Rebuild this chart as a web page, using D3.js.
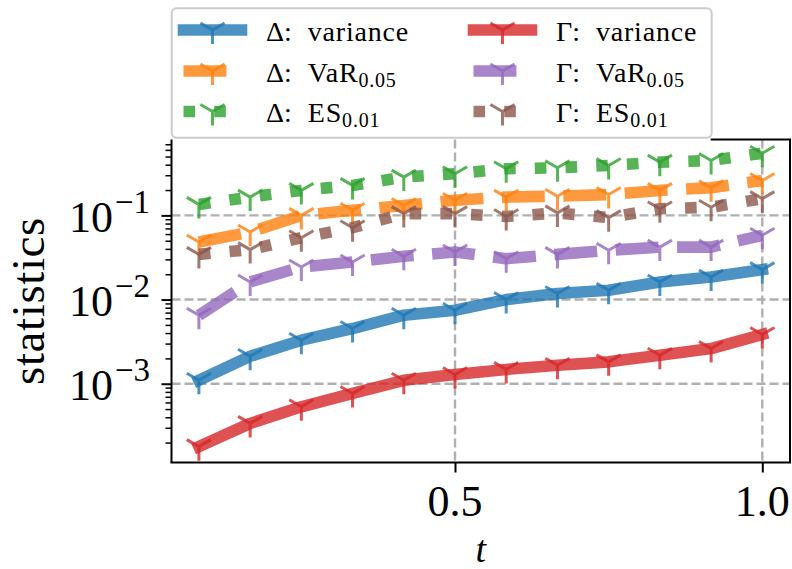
<!DOCTYPE html>
<html><head><meta charset="utf-8">
<script src="https://cdn.jsdelivr.net/npm/d3@7"></script>
<style>
html,body{margin:0;padding:0;background:#fff;}
svg{display:block;}
</style></head>
<body>
<svg id="chart" width="792" height="569"></svg>
<script>
// ---- data ----
const tValues = [0.0833, 0.1667, 0.25, 0.3333, 0.4167, 0.5, 0.5833, 0.6667, 0.75, 0.8333, 0.9167, 1.0];
const deltaVariance = [0.00110, 0.00212, 0.00329, 0.00453, 0.00652, 0.00747, 0.0100, 0.0118, 0.0129, 0.0162, 0.0185, 0.0227];
const deltaVaR = [0.0482, 0.0634, 0.100, 0.115, 0.131, 0.151, 0.165, 0.169, 0.177, 0.198, 0.213, 0.260];
const deltaES = [0.135, 0.165, 0.198, 0.227, 0.285, 0.312, 0.358, 0.368, 0.392, 0.429, 0.449, 0.548];
const gammaVariance = [0.000179, 0.000338, 0.000532, 0.000767, 0.00110, 0.00129, 0.00148, 0.00166, 0.00182, 0.00218, 0.00262, 0.00385];
const gammaVaR = [0.0065, 0.0162, 0.0244, 0.0279, 0.0327, 0.0367, 0.0306, 0.0344, 0.0385, 0.042, 0.042, 0.058];
const gammaES = [0.0344, 0.0392, 0.0543, 0.0714, 0.105, 0.105, 0.097, 0.107, 0.094, 0.120, 0.125, 0.158];

const seriesPrefix = ["Δ", "Δ", "Δ", "Γ", "Γ", "Γ"];
const seriesName = ["variance", "VaR", "ES", "variance", "VaR", "ES"];
const seriesSub = ["", "0.05", "0.01", "", "0.05", "0.01"];
const seriesValues = [deltaVariance, deltaVaR, deltaES, gammaVariance, gammaVaR, gammaES];
const seriesStyle = ["solid", "dashed", "dotted", "solid", "dashed", "dotted"];
const seriesColor = ["#1f77b4", "#ff7f0e", "#2ca02c", "#d62728", "#9467bd", "#8c564b"];

const xTickValues = [0.5, 1.0];
const xTickLabels = ["0.5", "1.0"];
const yTickValues = [1e-3, 1e-2, 1e-1];
const yTickExponents = ["−3", "−2", "−1"];
const xLabel = "t";
const yLabel = "statistics";

// ---- layout ----
const FONT = "'Liberation Serif', 'DejaVu Serif', 'Noto Serif', 'Times New Roman', serif";
const L = 171.5, R = 790, T = 139.5, B = 462.5;
const LW = 11.6;
const MR = 14; // marker radius
const svg = d3.select("#chart");

const x = d3.scaleLinear().domain([0.03872, 1.04507]).range([L, R]);
const y = d3.scaleLog().domain([1.16e-4, 0.797]).range([B, T]);

function dashFor(style){
  if (style === "dashed") return `${3.7*LW} ${1.6*LW}`;
  if (style === "dotted") return `${1*LW} ${1.65*LW}`;
  return null;
}
function txt(g){ return g.append("text").attr("font-family", FONT).attr("fill", "#000"); }

// grid
const gridG = svg.append("g");
yTickValues.forEach(v => {
  gridG.append("line").attr("x1", L).attr("x2", R).attr("y1", y(v)).attr("y2", y(v))
    .attr("stroke", "#b0b0b0").attr("stroke-width", 2.4).attr("stroke-dasharray", "9 4");
});
xTickValues.forEach(v => {
  gridG.append("line").attr("y1", T).attr("y2", B).attr("x1", x(v)).attr("x2", x(v))
    .attr("stroke", "#b0b0b0").attr("stroke-width", 2.4).attr("stroke-dasharray", "9 4");
});

// markers (tri_down)
function triDown(g, cx, cy, color){
  const p = `M${cx},${cy}L${cx},${cy+MR}M${cx},${cy}L${cx+0.866*MR},${cy-0.5*MR}M${cx},${cy}L${cx-0.866*MR},${cy-0.5*MR}`;
  g.append("path").attr("d", p).attr("fill", "none").attr("stroke", color)
    .attr("stroke-width", 3).attr("stroke-opacity", 0.8).attr("stroke-linecap", "butt");
}

const line = d3.line().x((d, i) => x(tValues[i])).y(d => y(d));
const plotG = svg.append("g");
seriesValues.forEach((vals, si) => {
  const g = plotG.append("g");
  const p = g.append("path").attr("d", line(vals)).attr("fill", "none")
    .attr("stroke", seriesColor[si]).attr("stroke-opacity", 0.8)
    .attr("stroke-width", LW).attr("stroke-linejoin", "round");
  const da = dashFor(seriesStyle[si]);
  if (da) p.attr("stroke-dasharray", da).attr("stroke-linecap", "butt");
  else p.attr("stroke-linecap", "square");
  vals.forEach((v, i) => triDown(g, x(tValues[i]), y(v), seriesColor[si]));
});

// legend box geometry
const LEG_X = 171.7, LEG_Y = 8.3, LEG_W = 540, LEG_H = 129.5;

// axes: spines
const axG = svg.append("g");
axG.append("line").attr("x1", L).attr("x2", L).attr("y1", T).attr("y2", B).attr("stroke", "#000").attr("stroke-width", 2);
axG.append("line").attr("x1", L - 1).attr("x2", R + 1).attr("y1", B).attr("y2", B).attr("stroke", "#000").attr("stroke-width", 2);
axG.append("line").attr("x1", R).attr("x2", R).attr("y1", T).attr("y2", B).attr("stroke", "#000").attr("stroke-width", 2);
// top spine: hidden where the legend sits on it
axG.append("line").attr("x1", LEG_X + LEG_W - 1).attr("x2", R + 1).attr("y1", T).attr("y2", T).attr("stroke", "#000").attr("stroke-width", 2);

// x axis ticks via d3 axis
const xAxis = d3.axisBottom(x).tickValues(xTickValues).tickSize(10).tickFormat("");
const xg = svg.append("g").attr("transform", `translate(0,${B})`).call(xAxis);
xg.select(".domain").remove();
xg.selectAll(".tick line").attr("stroke", "#000").attr("stroke-width", 2);
xTickValues.forEach((v, i) => {
  txt(svg).attr("x", x(v)).attr("y", 516).attr("text-anchor", "middle")
    .attr("font-size", 44).text(xTickLabels[i]);
});

// y axis: major and minor ticks
const yMinor = [];
for (let e = -4; e <= -1; e++) for (let m = 2; m <= 9; m++) {
  const v = m * Math.pow(10, e);
  if (v >= y.domain()[0] && v <= y.domain()[1]) yMinor.push(v);
}
const yAxisMinor = d3.axisLeft(y).tickValues(yMinor).tickSize(6).tickFormat("");
const ygm = svg.append("g").attr("transform", `translate(${L},0)`).call(yAxisMinor);
ygm.select(".domain").remove();
ygm.selectAll(".tick line").attr("stroke", "#000").attr("stroke-width", 1.5);
const yAxisMajor = d3.axisLeft(y).tickValues(yTickValues).tickSize(10).tickFormat("");
const ygM = svg.append("g").attr("transform", `translate(${L},0)`).call(yAxisMajor);
ygM.select(".domain").remove();
ygM.selectAll(".tick line").attr("stroke", "#000").attr("stroke-width", 2);
yTickValues.forEach((v, i) => {
  const t = txt(svg).attr("x", 150).attr("y", y(v) + 16.3).attr("text-anchor", "end");
  t.append("tspan").attr("font-size", 44).text("10");
  t.append("tspan").attr("font-size", 33).attr("dx", 2).attr("dy", -18.7).text(yTickExponents[i]);
});

// axis labels
txt(svg).attr("x", (L + R) / 2).attr("y", 562).attr("text-anchor", "middle")
  .attr("font-size", 38).attr("font-style", "italic").text(xLabel);
txt(svg).attr("transform", `translate(44,${(T + B) / 2}) rotate(-90)`)
  .attr("text-anchor", "middle").attr("font-size", 47).attr("letter-spacing", 0.6).text(yLabel);

// legend
const legG = svg.append("g");
legG.append("rect").attr("x", LEG_X).attr("y", LEG_Y).attr("width", LEG_W).attr("height", LEG_H)
  .attr("rx", 5).attr("fill", "#fff").attr("fill-opacity", 1).attr("stroke", "#cccccc").attr("stroke-width", 2);
const colHandleX = [183.5, 473.5];
const colTextX = [266, 556];
const rowY = [30, 71, 111.5];
seriesValues.forEach((vals, si) => {
  const col = Math.floor(si / 3), row = si % 3;
  const hx0 = colHandleX[col], hx1 = hx0 + 58, cy = rowY[row];
  const p = legG.append("path").attr("d", `M${hx0},${cy}L${hx1},${cy}`).attr("fill", "none")
    .attr("stroke", seriesColor[si]).attr("stroke-opacity", 0.8).attr("stroke-width", LW);
  const da = dashFor(seriesStyle[si]);
  if (da) p.attr("stroke-dasharray", da).attr("stroke-linecap", "butt");
  else p.attr("stroke-linecap", "square");
  triDown(legG, (hx0 + hx1) / 2, cy, seriesColor[si]);
  const pre = txt(legG).attr("x", colTextX[col]).attr("y", cy + 10.7).attr("font-size", 28)
    .text(seriesPrefix[si] + ":");
  const w = pre.node().getComputedTextLength();
  const nt = txt(legG).attr("x", colTextX[col] + w + 16).attr("y", cy + 10.7).attr("font-size", 28)
    .attr("letter-spacing", 0.8);
  nt.append("tspan").text(seriesName[si]);
  if (seriesSub[si]) nt.append("tspan").attr("font-size", 20).attr("dy", 5).text(seriesSub[si]);
});
</script>
</body></html>
